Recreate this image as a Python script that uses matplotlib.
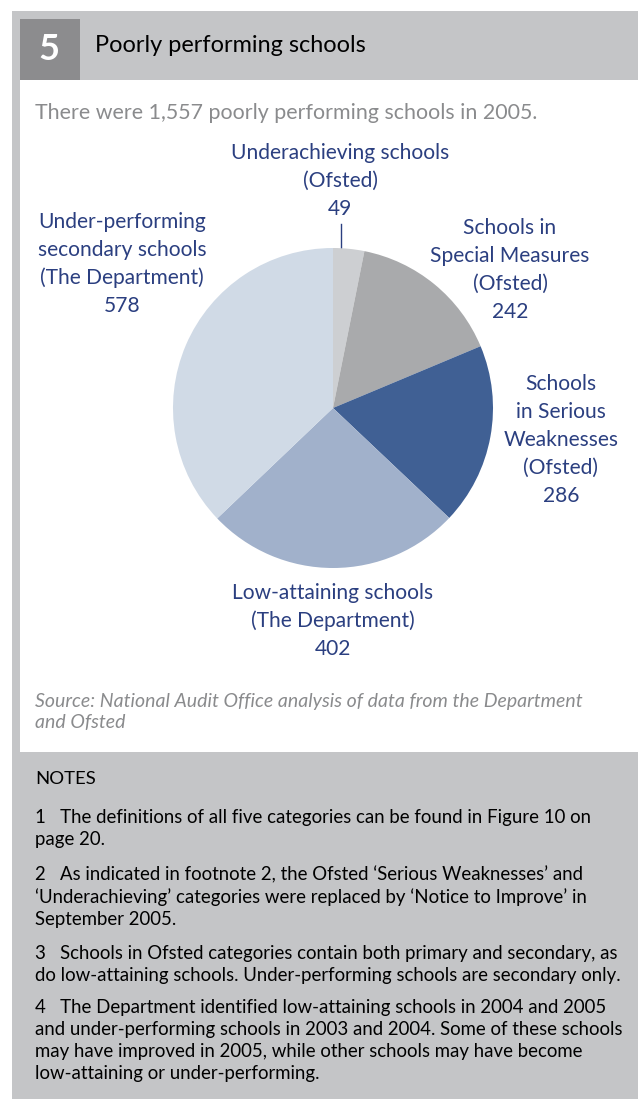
import matplotlib
matplotlib.use("Agg")
import matplotlib.pyplot as plt
from matplotlib.patches import Rectangle

# data
categories = ["Underachieving schools\n(Ofsted)",
              "Schools in\nSpecial Measures\n(Ofsted)",
              "Schools\nin Serious\nWeaknesses\n(Ofsted)",
              "Low-attaining schools\n(The Department)",
              "Under-performing\nsecondary schools\n(The Department)"]
counts = [49, 242, 286, 402, 578]
colours = ["#CDCFD2", "#A9AAAC", "#406094", "#A1B1CB", "#D0DAE6"]

title = "Poorly performing schools"
subtitle = "There were 1,557 poorly performing schools in 2005."
source = "Source: National Audit Office analysis of data from the Department\nand Ofsted"
notes = [
    "1   The definitions of all five categories can be found in Figure 10 on\npage 20.",
    "2   As indicated in footnote 2, the Ofsted \u2018Serious Weaknesses\u2019 and\n\u2018Underachieving\u2019 categories were replaced by \u2018Notice to Improve\u2019 in\nSeptember 2005.",
    "3   Schools in Ofsted categories contain both primary and secondary, as\ndo low-attaining schools. Under-performing schools are secondary only.",
    "4   The Department identified low-attaining schools in 2004 and 2005\nand under-performing schools in 2003 and 2004. Some of these schools\nmay have improved in 2005, while other schools may have become\nlow-attaining or under-performing.",
]

plt.rcParams['font.family'] = ['Lato', 'DejaVu Sans']
W, H = 638, 1099
blue = "#2B3F80"
grey_txt = "#8A8B8D"

fig = plt.figure(figsize=(W / 100, H / 100), dpi=100)
bg = fig.add_axes([0, 0, 1, 1])
bg.set_xlim(0, W)
bg.set_ylim(H, 0)
bg.axis('off')


def lines_at(x, y0, step, text, **kw):
    # draw a multi-line block one line at a time so the spacing is exact
    for i, line in enumerate(text.split("\n")):
        bg.text(x, y0 + i * step, line, va='center', **kw)


# panels
bg.add_patch(Rectangle((12, 11), W - 12, H - 11, color="#C4C5C7", lw=0))
bg.add_patch(Rectangle((20, 80), W - 20, 672, color="white", lw=0))
bg.add_patch(Rectangle((20, 19), 60, 61, color="#8C8C8E", lw=0))

bg.text(49, 49, "5", color="white", fontsize=26, fontweight='bold', ha='center', va='center')
bg.text(95, 45, title, color="black", fontsize=16.9, ha='left', va='center')
bg.text(35, 113, subtitle, color=grey_txt, fontsize=15.4, ha='left', va='center')

# pie
cx, cy, r = 333, 408, 160
pax = fig.add_axes([(cx - r) / W, 1 - (cy + r) / H, 2 * r / W, 2 * r / H])
pax.pie(counts, colors=colours, startangle=90, counterclock=False,
        wedgeprops=dict(linewidth=0))
pax.set_xlim(-1, 1)
pax.set_ylim(-1, 1)
pax.set_aspect('auto')

# first line of each label
label_pos = [(340, 153), (510, 228), (561, 384), (333, 593), (122, 222)]
for (lx, ly), cat, n in zip(label_pos, categories, counts):
    lines_at(lx, ly, 28, cat + "\n" + str(n), color=blue, fontsize=15.1, ha='center')

# leader line for the small slice
bg.plot([341, 341], [224, 248], color=blue, lw=1)

lines_at(35, 701, 22, source, color=grey_txt, fontsize=14, style='italic', ha='left')

bg.text(35, 779, "NOTES", color="black", fontsize=13.3, ha='left', va='center')
note_y = [818, 875, 953, 1008]
for y, t in zip(note_y, notes):
    lines_at(35, y, 22, t, color="black", fontsize=13.4, ha='left')

fig.savefig("out.png", dpi=100)
